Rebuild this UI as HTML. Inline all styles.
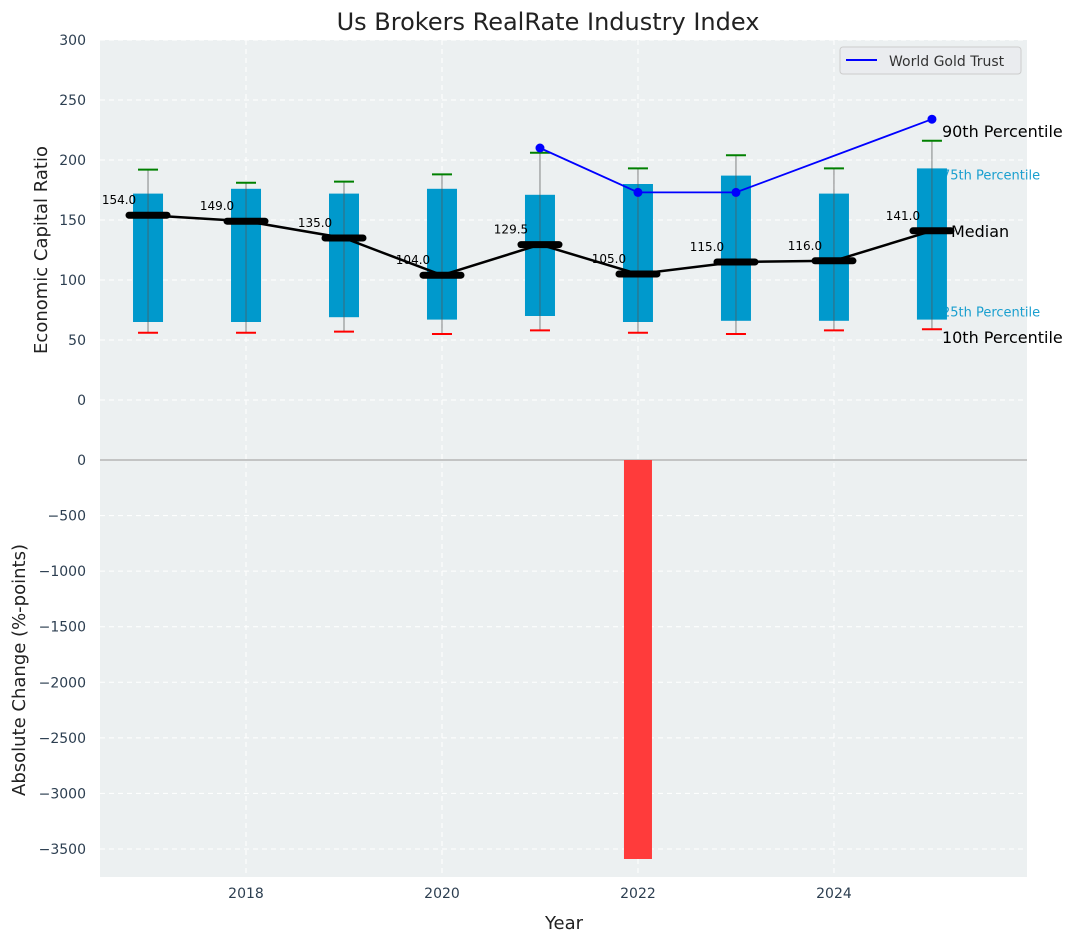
<!DOCTYPE html>
<html><head><meta charset="utf-8"><style>
body{margin:0;background:#fff;font-family:"DejaVu Sans","Liberation Sans",sans-serif}
svg text{font-family:"DejaVu Sans","Liberation Sans",sans-serif}
</style></head><body>
<svg id="c" width="1077" height="942" xmlns="http://www.w3.org/2000/svg"></svg>
<script>
const years=[2017,2018,2019,2020,2021,2022,2023,2024,2025];
const p10=[56,56,57,55,58,56,55,58,59];
const p25=[65,65,69,67,70,65,66,66,67];
const med=[154,149,135,104,129.5,105,115,116,141];
const p75=[172,176,172,176,171,180,187,172,193];
const p90=[192,181,182,188,206,193,204,193,216];
const goldYears=[2021,2022,2023,2025];
const goldVals=[210,173,173,234];
const changeYears=[2022];
const changeVals=[-3590];
const topTicks=[300,250,200,150,100,50,0];
const botTicks=[0,-500,-1000,-1500,-2000,-2500,-3000,-3500];
const xTicks=[2018,2020,2022,2024];

const NS="http://www.w3.org/2000/svg";
const svg=document.getElementById('c');
const L=100,R=1027;
const X=v=>L+(v-2016.51)*(R-L)/(2025.97-2016.51);
const Yt=v=>400-v*1.2;
const Yb=v=>460-v*0.11114;
function el(t,a,txt){const e=document.createElementNS(NS,t);for(const k in a)e.setAttribute(k,a[k]);if(txt!==undefined)e.textContent=txt;svg.appendChild(e);return e;}

let e;
e=el('rect',{x:L,y:40,width:R-L,height:420,fill:'#ecf0f1'});


e=el('rect',{x:L,y:460,width:R-L,height:417,fill:'#ecf0f1'});


topTicks.forEach(t=>{el('line',{x1:L,x2:R,y1:Yt(t),y2:Yt(t),stroke:'#fff','stroke-dasharray':'5,4','stroke-width':1});
 e=el('text',{x:86,y:Yt(t)+5,'text-anchor':'end','font-size':14,fill:'#2c3e50'},t);
 
 });
botTicks.forEach(t=>{el('line',{x1:L,x2:R,y1:Yb(t),y2:Yb(t),stroke:'#fff','stroke-dasharray':'5,4','stroke-width':1});
 e=el('text',{x:86,y:Yb(t)+5,'text-anchor':'end','font-size':14,fill:'#2c3e50'},String(t).replace('-','\u2212'));
 
 });
xTicks.forEach(t=>{el('line',{x1:X(t),x2:X(t),y1:40,y2:877,stroke:'#fff','stroke-dasharray':'5,4','stroke-width':1});
 e=el('text',{x:X(t),y:898,'text-anchor':'middle','font-size':14,fill:'#2c3e50'},t);
 
 });
el('line',{x1:L,x2:R,y1:Yb(0),y2:Yb(0),stroke:'#b5b5b5','stroke-width':1.5});
// percentile annotations (small ones behind boxes)
const lx=X(2025);
[['75th Percentile',lx+10,Yt(p75[8])+11,13,'#1a9fcf'],['25th Percentile',lx+10,Yt(p25[8])-3,13,'#1a9fcf']].forEach(a=>{
 e=el('text',{x:a[1],y:a[2],'font-size':a[3],fill:a[4]},a[0]);
 
 });
// boxes
years.forEach((y,i)=>{
 const cx=X(y),hw=15;
 e=el('rect',{x:cx-hw,y:Yt(p75[i]),width:2*hw,height:Yt(p25[i])-Yt(p75[i]),fill:'#0099cc'});
 
 
 el('line',{x1:cx,x2:cx,y1:Yt(p90[i]),y2:Yt(p10[i]),stroke:'#555','stroke-width':1,opacity:0.7});
 el('line',{x1:cx-10,x2:cx+10,y1:Yt(p90[i]),y2:Yt(p90[i]),stroke:'green','stroke-width':2});
 el('line',{x1:cx-10,x2:cx+10,y1:Yt(p10[i]),y2:Yt(p10[i]),stroke:'red','stroke-width':2});
});
e=el('polyline',{points:years.map((y,i)=>X(y)+','+Yt(med[i])).join(' '),fill:'none',stroke:'#000','stroke-width':2.5});


years.forEach((y,i)=>{
 e=el('line',{x1:X(y)-19,x2:X(y)+19,y1:Yt(med[i]),y2:Yt(med[i]),stroke:'#000','stroke-width':7,'stroke-linecap':'round'});
 
 
 e=el('text',{x:X(y)-29,y:Yt(med[i])-11,'text-anchor':'middle','font-size':12,fill:'#000'},med[i].toFixed(1));
 
 
});
e=el('polyline',{points:goldYears.map((y,i)=>X(y)+','+Yt(goldVals[i])).join(' '),fill:'none',stroke:'blue','stroke-width':1.8});


goldYears.forEach((y,i)=>{e=el('circle',{cx:X(y),cy:Yt(goldVals[i]),r:4.5,fill:'blue'});
 
 });
changeYears.forEach((y,i)=>{e=el('rect',{x:X(y)-14,y:Yb(0),width:28,height:Yb(changeVals[i])-Yb(0),fill:'#ff3b3b'});
 
 });
[['90th Percentile',lx+10,Yt(p90[8])-4,16,'#000'],['Median',lx+19,Yt(med[8])+6,16,'#000'],['10th Percentile',lx+10,Yt(p10[8])+14,16,'#000']].forEach(a=>{
 e=el('text',{x:a[1],y:a[2],'font-size':a[3],fill:a[4]},a[0]);
 
 });
e=el('rect',{x:840,y:47,width:181,height:27,rx:3,fill:'#eaecef',stroke:'#ccc'});


el('line',{x1:846,x2:877,y1:60,y2:60,stroke:'blue','stroke-width':2});
e=el('text',{x:889,y:66,'font-size':14,fill:'#333'},'World Gold Trust');


e=el('text',{x:548,y:30,'text-anchor':'middle','font-size':24,fill:'#222'},'Us Brokers RealRate Industry Index');


e=el('text',{x:564,y:929,'text-anchor':'middle','font-size':18,fill:'#222'},'Year');


e=el('text',{x:47,y:250,'text-anchor':'middle','font-size':18,fill:'#222',transform:'rotate(-90 47 250)'},'Economic Capital Ratio');


e=el('text',{x:25,y:670,'text-anchor':'middle','font-size':18,fill:'#222',transform:'rotate(-90 25 670)'},'Absolute Change (%-points)');


</script>
</body></html>
